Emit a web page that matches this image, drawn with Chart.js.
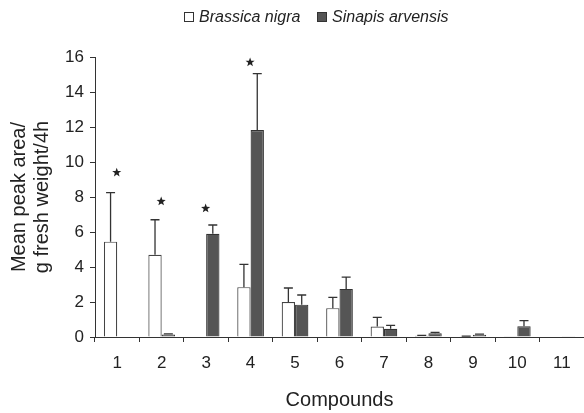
<!DOCTYPE html>
<html>
<head>
<meta charset="utf-8">
<script src="https://cdn.jsdelivr.net/npm/chart.js@4"></script>
<style>
  html, body { margin: 0; padding: 0; background: #fff; }
  #wrap { width: 584px; height: 413px; }
</style>
</head>
<body>
<div id="wrap"><canvas id="chart" width="584" height="413"></canvas></div>
<script>
// Compounds on the x axis
const categories = ['1', '2', '3', '4', '5', '6', '7', '8', '9', '10', '11']

// Mean peak area per g fresh weight per 4h
const brassicaNigra = [5.45, 4.7, 0, 2.85, 2.0, 1.65, 0.6, 0.07, 0.04, 0.04, 0]
const brassicaErr   = [2.8, 2.0, 0, 1.3, 0.8, 0.62, 0.52, 0.02, 0.01, 0, 0]

const sinapisArvensis = [0, 0.15, 5.9, 11.83, 1.85, 2.75, 0.47, 0.22, 0.13, 0.62, 0.01]
const sinapisErr      = [0, 0.03, 0.5, 3.22, 0.55, 0.67, 0.2, 0.05, 0.03, 0.32, 0]

// significance stars (height in axis units), null = none
const starValues = [9.4, 7.75, 7.35, 15.7, null, null, null, null, null, null, null]

const yTicks = [0, 2, 4, 6, 8, 10, 12, 14, 16]

const FONT = "'Liberation Sans', Arial, sans-serif"
const INK = '#222'

// Error bars (upper side only)
const errorBars = {
  id: 'errorBars',
  afterDatasetsDraw(chart) {
    const { ctx } = chart
    const y = chart.scales.y
    const errs = [brassicaErr, sinapisErr]
    ctx.save()
    ctx.strokeStyle = '#333'
    ctx.lineWidth = 1.3
    chart.data.datasets.forEach((ds, i) => {
      const meta = chart.getDatasetMeta(i)
      meta.data.forEach((bar, j) => {
        const e = errs[i][j]
        if (!e) return
        const top = y.getPixelForValue(ds.data[j] + e)
        ctx.beginPath()
        ctx.moveTo(bar.x, bar.y)
        ctx.lineTo(bar.x, top)
        ctx.moveTo(bar.x - 4.5, top)
        ctx.lineTo(bar.x + 4.5, top)
        ctx.stroke()
      })
    })
    ctx.restore()
  }
}

// Stars and legend
const extras = {
  id: 'extras',
  afterDraw(chart) {
    const { ctx } = chart
    const x = chart.scales.x
    const y = chart.scales.y
    ctx.save()
    ctx.fillStyle = INK
    starValues.forEach((v, i) => {
      if (v == null) return
      const cx = x.getPixelForValue(i) - 0.5
      const cy = y.getPixelForValue(v)
      const R = 4.8, r = 2.0
      ctx.beginPath()
      for (let k = 0; k < 10; k++) {
        const rad = k % 2 === 0 ? R : r
        const a = -Math.PI / 2 + k * Math.PI / 5
        const px = cx + rad * Math.cos(a)
        const py = cy + rad * Math.sin(a)
        if (k === 0) ctx.moveTo(px, py)
        else ctx.lineTo(px, py)
      }
      ctx.closePath()
      ctx.fill()
    })

    // legend
    ctx.lineWidth = 1
    ctx.strokeStyle = '#333'
    ctx.fillStyle = '#fff'
    ctx.fillRect(184.5, 12.5, 9, 9)
    ctx.strokeRect(184.5, 12.5, 9, 9)
    ctx.fillStyle = '#555'
    ctx.fillRect(317.5, 12.5, 9, 9)
    ctx.strokeRect(317.5, 12.5, 9, 9)
    ctx.fillStyle = INK
    ctx.font = "italic 16px " + FONT
    ctx.textBaseline = 'middle'
    ctx.textAlign = 'left'
    ctx.fillText('Brassica nigra', 199, 17.5)
    ctx.fillText('Sinapis arvensis', 332, 17.5)
    ctx.restore()
  }
}

new Chart(document.getElementById('chart'), {
  type: 'bar',
  data: {
    labels: categories,
    datasets: [
      {
        label: 'Brassica nigra',
        data: brassicaNigra,
        backgroundColor: '#fff',
        borderColor: '#444',
        borderWidth: 1.2
      },
      {
        label: 'Sinapis arvensis',
        data: sinapisArvensis,
        backgroundColor: '#555',
        borderColor: '#333',
        borderWidth: 1.2
      }
    ]
  },
  options: {
    responsive: false,
    animation: false,
    devicePixelRatio: 1,
    layout: { padding: { top: 57, left: 0, right: 0, bottom: 0 } },
    datasets: {
      bar: { categoryPercentage: 0.6, barPercentage: 1.0 }
    },
    plugins: {
      legend: { display: false },
      tooltip: { enabled: false }
    },
    scales: {
      x: {
        afterFit: (s) => { s.height = 76 },
        grid: {
          display: true,
          drawOnChartArea: false,
          offset: true,
          tickLength: 5,
          color: '#333'
        },
        border: { display: true, color: '#333', width: 1 },
        ticks: {
          font: { family: FONT, size: 17 },
          color: INK,
          padding: 11
        },
        title: {
          display: true,
          text: 'Compounds',
          font: { family: FONT, size: 20, lineHeight: 1.2 },
          color: INK,
          padding: { top: 4, bottom: 1 }
        }
      },
      y: {
        min: 0,
        max: 16,
        afterFit: (s) => { s.width = 95 },
        afterBuildTicks: (s) => { s.ticks = yTicks.map(v => ({ value: v })) },
        grid: {
          display: true,
          drawOnChartArea: false,
          tickLength: 5,
          color: '#333'
        },
        border: { display: true, color: '#333', width: 1 },
        ticks: {
          font: { family: FONT, size: 17 },
          color: INK,
          padding: 6
        },
        title: {
          display: true,
          text: ['Mean peak area/', 'g fresh weight/4h'],
          font: { family: FONT, size: 20, lineHeight: '23px' },
          color: INK,
          padding: { top: 8, bottom: 0 }
        }
      }
    }
  },
  plugins: [errorBars, extras]
})
</script>
</body>
</html>
